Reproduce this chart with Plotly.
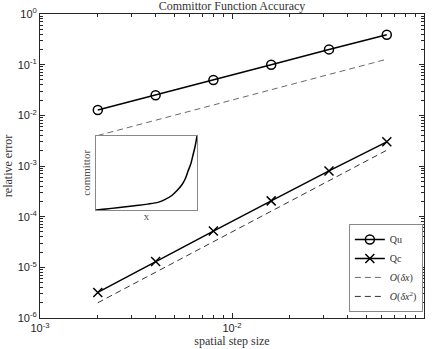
import plotly.graph_objects as go

# ── Data ──────────────────────────────────────────────
step_size = [0.002, 0.004, 0.008, 0.016, 0.032, 0.064]
err_qu = [0.0127, 0.025, 0.05, 0.1, 0.2, 0.39]
err_qc = [3.2e-6, 1.3e-5, 5.2e-5, 2.05e-4, 8.0e-4, 3.0e-3]
ref_first = [0.004, 0.008, 0.016, 0.032, 0.064, 0.128]
ref_second = [2.0e-6, 8.0e-6, 3.2e-5, 1.28e-4, 5.12e-4, 2.05e-3]

# inset: committor profile (normalised x, q)
inset_x = [0.0, 0.21, 0.38, 0.51, 0.62, 0.68, 0.75, 0.80, 0.85, 0.88, 0.91, 0.94, 0.96, 0.98, 1.0]
inset_q = [0.0, 0.03, 0.058, 0.08, 0.107, 0.14, 0.196, 0.26, 0.34, 0.41, 0.52, 0.63, 0.74, 0.85, 1.0]

x_decades = [-3, -2, -1]
y_decades = [-6, -5, -4, -3, -2, -1, 0]

INK = "#262626"
SERIF = "Liberation Serif"
SANS = "Liberation Sans"


def decade_ticks(exps):
    vals = [10.0 ** e for e in exps]
    text = [f"10<sup>{e}</sup>" for e in exps]
    minor = [m * 10.0 ** e for e in exps[:-1] for m in range(2, 10)]
    return vals, text, minor


fig = go.Figure()

fig.add_trace(go.Scatter(
    x=step_size, y=err_qu, name="Qu", mode="lines+markers",
    line=dict(color="black", width=1.5),
    marker=dict(symbol="circle-open", size=9, color="black", line=dict(width=1.5)),
))
fig.add_trace(go.Scatter(
    x=step_size, y=err_qc, name="Qc", mode="lines+markers",
    line=dict(color="black", width=1.5),
    marker=dict(symbol="x-thin-open", size=9, color="black", line=dict(width=1.5)),
))
fig.add_trace(go.Scatter(
    x=step_size, y=ref_first, name="<i>O</i>(<i>δx</i>)", mode="lines",
    line=dict(color="#444444", width=0.8, dash="6px,4px"),
))
fig.add_trace(go.Scatter(
    x=step_size, y=ref_second, name="<i>O</i>(<i>δx</i><sup>2</sup>)", mode="lines",
    line=dict(color="black", width=0.8, dash="6px,4px"),
))

# inset
fig.add_trace(go.Scatter(
    x=inset_x, y=inset_q, mode="lines", showlegend=False,
    line=dict(color="black", width=1.5, shape="spline"),
    xaxis="x2", yaxis="y2",
))

xv, xt, xm = decade_ticks(x_decades)
yv, yt, ym = decade_ticks(y_decades)

axis_common = dict(
    type="log", showline=True, linecolor=INK, linewidth=1, mirror="allticks",
    ticks="inside", ticklen=5, tickcolor=INK, showgrid=False, zeroline=False,
    tickmode="array", automargin=False,
    tickfont=dict(family=SANS, size=11, color=INK),
)
label_font = dict(family=SERIF, size=12, color="#333333")
inset_axis = dict(range=[0, 1], showline=True, linecolor="#888888", mirror=True,
                  showticklabels=False, ticks="", showgrid=False, zeroline=False,
                  automargin=False)

fig.update_layout(
    width=432, height=349,
    margin=dict(l=40, r=8, t=14, b=31, autoexpand=False),
    paper_bgcolor="white", plot_bgcolor="white",
    title=dict(text="Committor Function Accuracy", x=0.5, xref="paper",
               y=0.983, yref="container", yanchor="middle", automargin=False,
               font=dict(family=SERIF, size=12, color="#333333")),
    xaxis=dict(axis_common, range=[-3, -1], tickvals=xv, ticktext=xt,
               minor=dict(ticks="inside", ticklen=3, tickcolor=INK, tickmode="array",
                          tickvals=xm, showgrid=False),
               title=dict(text="spatial step size", standoff=0, font=label_font)),
    yaxis=dict(axis_common, range=[-6, 0], tickvals=yv, ticktext=yt,
               minor=dict(ticks="inside", ticklen=3, tickcolor=INK, tickmode="array",
                          tickvals=ym, showgrid=False),
               title=dict(text="relative error", standoff=2, font=label_font)),
    xaxis2=dict(inset_axis, domain=[0.146, 0.409], anchor="y2",
                title=dict(text="x", standoff=2,
                           font=dict(family=SERIF, size=11, color="#555555"))),
    yaxis2=dict(inset_axis, domain=[0.355, 0.600], anchor="x2",
                title=dict(text="committor", standoff=2,
                           font=dict(family=SERIF, size=11, color="#555555"))),
    legend=dict(x=0.997, y=0.02, xanchor="right", yanchor="bottom",
                bgcolor="white", bordercolor="#888888", borderwidth=1,
                font=dict(family=SERIF, size=10, color="#333333"),
                tracegroupgap=0, itemwidth=30),
)

# drop the browser's default body margin so the figure sits at (0, 0)
fig.write_html("out.html", config={"displayModeBar": False},
               post_script="document.body.style.margin='0';")
